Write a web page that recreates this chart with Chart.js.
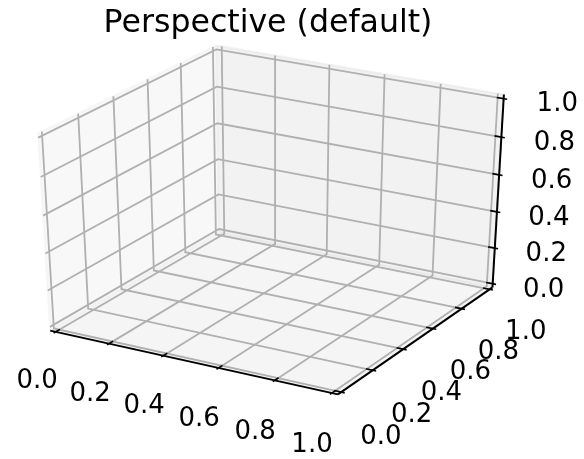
<!DOCTYPE html>
<html>
<head>
<meta charset="utf-8">
<script src="https://cdn.jsdelivr.net/npm/chart.js@4.4.1/dist/chart.umd.min.js"></script>
<style>
  html, body { margin: 0; padding: 0; background: #ffffff; }
  canvas { display: block; }
</style>
</head>
<body>
<canvas id="chart" width="584" height="459"></canvas>
<script>
// ---------------- data ----------------
const chartTitle = 'Perspective (default)';
const xLimits = [0, 1];
const yLimits = [0, 1];
const zLimits = [0, 1];
const xTicks = [0.0, 0.2, 0.4, 0.6, 0.8, 1.0];
const yTicks = [0.0, 0.2, 0.4, 0.6, 0.8, 1.0];
const zTicks = [0.0, 0.2, 0.4, 0.6, 0.8, 1.0];
const xTickLabels = ['0.0', '0.2', '0.4', '0.6', '0.8', '1.0'];
const yTickLabels = ['0.0', '0.2', '0.4', '0.6', '0.8', '1.0'];
const zTickLabels = ['0.0', '0.2', '0.4', '0.6', '0.8', '1.0'];

// ---------------- camera / layout ----------------
const ELEV = 30, AZIM = -60, DIST = 10, Z_ASPECT = 1.0;
const CANVAS_W = 584, CANVAS_H = 459;
const ORIGIN_X = 274.9, ORIGIN_Y = 213.7;
const PX_PER_UNIT_X = 318.8, PX_PER_UNIT_Y = 216.0;
const PANE_MARGIN = 1 / 48;
const TICK_OUT = 0.012, TICK_IN = 0.024;
const X_LABEL_OFFSET = { y: -0.12, z: -0.21 };
const Y_LABEL_OFFSET = { x: 0.14, z: -0.2 };
const Z_LABEL_OFFSET = { x: 0.17, y: 0.03 };
const TITLE_POS = { x: 268, y: 32 };
const FONT_FAMILY = '"DejaVu Sans", "Liberation Sans", sans-serif';

// ---------------- projection ----------------
const e = ELEV * Math.PI / 180, a = AZIM * Math.PI / 180;
const U = [-Math.sin(a), Math.cos(a), 0];
const V = [-Math.sin(e) * Math.cos(a), -Math.sin(e) * Math.sin(a), Math.cos(e)];
const W = [Math.cos(e) * Math.cos(a), Math.cos(e) * Math.sin(a), Math.sin(e)];
const dot = (p, q) => p[0] * q[0] + p[1] * q[1] + p[2] * q[2];

function project(x, y, z) {
  const P = [
    (x - xLimits[0]) / (xLimits[1] - xLimits[0]) - 0.5,
    (y - yLimits[0]) / (yLimits[1] - yLimits[0]) - 0.5,
    ((z - zLimits[0]) / (zLimits[1] - zLimits[0]) - 0.5) * Z_ASPECT
  ];
  const f = DIST / (DIST - dot(W, P));
  return { x: dot(U, P) * f, y: dot(V, P) * f };
}

const span = l => l[1] - l[0];
const xlo = xLimits[0] - span(xLimits) * PANE_MARGIN, xhi = xLimits[1] + span(xLimits) * PANE_MARGIN;
const ylo = yLimits[0] - span(yLimits) * PANE_MARGIN, yhi = yLimits[1] + span(yLimits) * PANE_MARGIN;
const zlo = zLimits[0] - span(zLimits) * PANE_MARGIN, zhi = zLimits[1] + span(zLimits) * PANE_MARGIN;

const poly = pts => pts.map(p => project(p[0], p[1], p[2]));

const datasets = [];
function addLine(pts, color, width, order, fill, bg) {
  datasets.push({
    data: poly(pts),
    showLine: true,
    borderColor: color,
    borderWidth: width,
    backgroundColor: bg || color,
    fill: fill || false,
    pointRadius: 0,
    pointHoverRadius: 0,
    tension: 0,
    order: order,
    clip: false
  });
}

// panes
addLine([[xlo, ylo, zlo], [xlo, yhi, zlo], [xlo, yhi, zhi], [xlo, ylo, zhi], [xlo, ylo, zlo]],
  'rgba(242,242,242,0.5)', 2, 30, 'shape', 'rgba(242,242,242,0.5)');
addLine([[xlo, yhi, zlo], [xhi, yhi, zlo], [xhi, yhi, zhi], [xlo, yhi, zhi], [xlo, yhi, zlo]],
  'rgba(230,230,230,0.5)', 2, 30, 'shape', 'rgba(230,230,230,0.5)');
addLine([[xlo, ylo, zlo], [xhi, ylo, zlo], [xhi, yhi, zlo], [xlo, yhi, zlo], [xlo, ylo, zlo]],
  'rgba(236,236,236,0.5)', 2, 30, 'shape', 'rgba(236,236,236,0.5)');

// grid lines
const GRID = '#b0b0b0', GRID_W = 1.8;
xTicks.forEach(x => addLine([[x, ylo, zlo], [x, yhi, zlo], [x, yhi, zhi]], GRID, GRID_W, 20));
yTicks.forEach(y => addLine([[xhi, y, zlo], [xlo, y, zlo], [xlo, y, zhi]], GRID, GRID_W, 20));
zTicks.forEach(z => addLine([[xlo, ylo, z], [xlo, yhi, z], [xhi, yhi, z]], GRID, GRID_W, 20));

// axis lines
addLine([[xlo, ylo, zlo], [xhi, ylo, zlo]], '#000000', 2, 10);
addLine([[xhi, ylo, zlo], [xhi, yhi, zlo]], '#000000', 2, 10);
addLine([[xhi, yhi, zlo], [xhi, yhi, zhi]], '#000000', 2, 10);

// tick marks
xTicks.forEach(x => addLine([[x, ylo - TICK_OUT, zlo], [x, ylo + TICK_IN, zlo]], '#000000', 1.6, 5));
yTicks.forEach(y => addLine([[xhi + TICK_OUT, y, zlo], [xhi - TICK_IN, y, zlo]], '#000000', 1.6, 5));
zTicks.forEach(z => addLine([[xhi + TICK_OUT, yhi, z], [xhi - TICK_IN, yhi, z]], '#000000', 1.6, 5));

// tick labels (positions in data space)
const labelItems = [];
xTicks.forEach((x, i) => labelItems.push({ p: project(x, ylo + X_LABEL_OFFSET.y, zlo + X_LABEL_OFFSET.z), t: xTickLabels[i] }));
yTicks.forEach((y, i) => labelItems.push({ p: project(xhi + Y_LABEL_OFFSET.x, y, zlo + Y_LABEL_OFFSET.z), t: yTickLabels[i] }));
zTicks.forEach((z, i) => labelItems.push({ p: project(xhi + Z_LABEL_OFFSET.x, yhi + Z_LABEL_OFFSET.y, z), t: zTickLabels[i] }));

const textPlugin = {
  id: 'axes3dText',
  afterDatasetsDraw(chart) {
    const ctx = chart.ctx;
    const sx = chart.scales.x, sy = chart.scales.y;
    ctx.save();
    ctx.fillStyle = '#000000';
    ctx.font = '26px ' + FONT_FAMILY;
    ctx.textAlign = 'center';
    ctx.textBaseline = 'middle';
    labelItems.forEach(l => {
      ctx.fillText(l.t, sx.getPixelForValue(l.p.x), sy.getPixelForValue(l.p.y));
    });
    ctx.font = '31.6px ' + FONT_FAMILY;
    ctx.textBaseline = 'alphabetic';
    ctx.fillText(chartTitle, TITLE_POS.x, TITLE_POS.y);
    ctx.restore();
  }
};

new Chart(document.getElementById('chart'), {
  type: 'scatter',
  data: { datasets: datasets },
  options: {
    responsive: false,
    devicePixelRatio: 1,
    animation: false,
    events: [],
    layout: { padding: 0 },
    scales: {
      x: { type: 'linear', display: false, min: -ORIGIN_X / PX_PER_UNIT_X, max: (CANVAS_W - ORIGIN_X) / PX_PER_UNIT_X },
      y: { type: 'linear', display: false, min: (ORIGIN_Y - CANVAS_H) / PX_PER_UNIT_Y, max: ORIGIN_Y / PX_PER_UNIT_Y }
    },
    plugins: { legend: { display: false }, tooltip: { enabled: false }, title: { display: false } }
  },
  plugins: [textPlugin]
});
</script>
</body>
</html>
